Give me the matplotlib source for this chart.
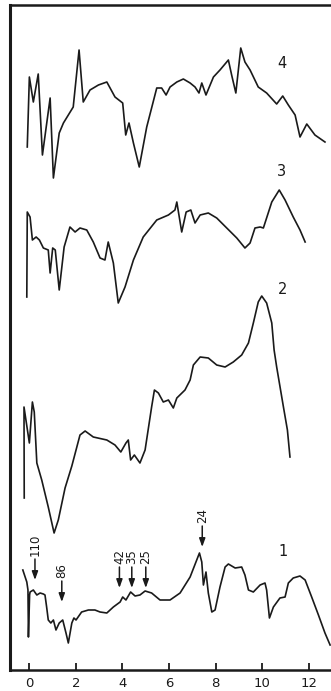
import matplotlib
matplotlib.use("Agg")
import matplotlib.pyplot as plt

# ---- data (x in axis units, y in arbitrary offset intensity units) ----
x4 = [-0.08, 0.01, 0.18, 0.39, 0.57, 0.90, 1.04, 1.29, 1.47, 1.89, 2.14, 2.32, 2.61, 2.97,
      3.33, 3.68, 4.01, 4.14, 4.28, 4.47, 4.72, 5.04, 5.47, 5.68, 5.87, 6.04, 6.33, 6.61,
      6.90, 7.11, 7.28, 7.40, 7.58, 7.90, 8.18, 8.54, 8.68, 8.86, 9.07, 9.25, 9.47, 9.82,
      10.18, 10.61, 10.87, 11.11, 11.40, 11.61, 11.90, 12.25, 12.68]
y4 = [523, 593, 568, 596, 515, 572, 492, 537, 547, 563, 620, 568, 580, 585,
      588, 573, 567, 535, 547, 527, 503, 543, 582, 582, 575, 583, 588, 591,
      587, 583, 577, 587, 575, 593, 600, 610, 595, 577, 622, 608, 600, 583,
      577, 566, 574, 565, 555, 533, 546, 535, 528]

x3 = [-0.10, -0.08, 0.04, 0.14, 0.30, 0.44, 0.61, 0.82, 0.90, 1.01, 1.12, 1.29, 1.50,
      1.75, 1.97, 2.18, 2.47, 2.75, 3.04, 3.25, 3.39, 3.61, 3.82, 4.11, 4.47, 4.89,
      5.47, 5.97, 6.25, 6.33, 6.54, 6.73, 6.93, 7.11, 7.33, 7.68, 8.04, 8.47, 8.90,
      9.25, 9.47, 9.68, 9.90, 10.04, 10.40, 10.72, 10.97, 11.32, 11.61, 11.83]
y3 = [373, 458, 453, 430, 433, 430, 422, 420, 397, 422, 420, 380, 423,
      443, 438, 442, 440, 428, 412, 410, 428, 407, 367, 383, 410, 433,
      450, 455, 460, 468, 438, 458, 460, 447, 455, 457, 452, 442, 432,
      422, 427, 442, 443, 442, 468, 480, 470, 453, 440, 428]

x2 = [-0.21, -0.22, 0.01, 0.14, 0.22, 0.33, 0.54, 0.82, 1.07, 1.25, 1.54, 1.83, 2.18,
      2.40, 2.75, 3.33, 3.68, 3.93, 4.15, 4.25, 4.35, 4.51, 4.75, 4.97, 5.25, 5.37,
      5.54, 5.75, 5.97, 6.18, 6.33, 6.68, 6.90, 7.04, 7.33, 7.68, 8.04, 8.40, 8.75,
      9.11, 9.40, 9.61, 9.82, 9.97, 10.18, 10.40, 10.50, 10.61, 10.90, 11.07, 11.18]
y2 = [172, 263, 227, 268, 258, 207, 190, 163, 137, 150, 182, 204, 235,
      239, 233, 230, 225, 218, 227, 230, 210, 215, 207, 220, 263, 280,
      277, 268, 270, 262, 272, 280, 290, 305, 313, 312, 305, 303, 308,
      315, 327, 347, 368, 374, 367, 347, 320, 303, 263, 240, 213]

x1 = [-0.27, -0.10, -0.05, -0.03, 0.02, 0.04, 0.18, 0.33, 0.47, 0.61, 0.68, 0.75, 0.82,
      0.93, 1.04, 1.15, 1.29, 1.44, 1.58, 1.68, 1.83, 1.92, 2.01, 2.25, 2.54, 2.82,
      3.04, 3.33, 3.61, 3.90, 4.01, 4.15, 4.35, 4.54, 4.75, 4.97, 5.25, 5.61, 6.04,
      6.47, 6.90, 7.30, 7.40, 7.47, 7.58, 7.68, 7.83, 7.97, 8.18, 8.40, 8.54, 8.83,
      9.11, 9.25, 9.40, 9.61, 9.90, 10.11, 10.18, 10.30, 10.47, 10.75, 10.97, 11.11,
      11.32, 11.61, 11.83, 12.11, 12.40, 12.68, 12.90]
y1 = [100, 88, 80, 33, 75, 78, 80, 75, 77, 76, 75, 63, 50,
      47, 50, 40, 47, 50, 37, 27, 47, 52, 50, 58, 60, 60,
      58, 57, 63, 68, 73, 70, 78, 74, 75, 79, 77, 70, 70,
      77, 93, 117, 108, 85, 98, 77, 58, 60, 83, 103, 106, 102,
      103, 95, 80, 78, 85, 87, 80, 52, 63, 72, 73, 87,
      92, 94, 90, 73, 55, 37, 25]

curve_labels = ["1", "2", "3", "4"]
label_x = [10.90, 10.87, 10.83, 10.83]
label_y = [119, 380, 498, 607]

peak_labels = ["110", "86", "42", "35", "25", "24"]
peak_x = [0.25, 1.40, 3.87, 4.40, 5.00, 7.42]
peak_tip = [90, 68, 82, 82, 82, 123]

xticks = [0, 2, 4, 6, 8, 10, 12]

# ---- figure ----
fig = plt.figure(figsize=(3.31, 6.91), dpi=100)
ax = fig.add_axes([10 / 331, 21 / 691, 325 / 331, 665 / 691])
ax.set_xlim(-0.82, 13.11)
ax.set_ylim(0, 665)

for xs, ys in [(x1, y1), (x2, y2), (x3, y3), (x4, y4)]:
    ax.plot(xs, ys, color="#1a1a1a", lw=1.2, solid_joinstyle="round")

for t, lx, ly in zip(curve_labels, label_x, label_y):
    ax.text(lx, ly, t, fontsize=10.5, ha="center", va="center", color="#1a1a1a")

arrow_len = 21
for t, px, tip in zip(peak_labels, peak_x, peak_tip):
    ax.annotate("", xy=(px, tip), xytext=(px, tip + arrow_len),
                arrowprops=dict(arrowstyle="-|>,head_length=0.5,head_width=0.18",
                                color="#1a1a1a", lw=1.1, shrinkA=0, shrinkB=0))
    ax.text(px, tip + arrow_len + 3, t, rotation=90, fontsize=8.5,
            ha="center", va="bottom", color="#1a1a1a")

ax.set_xticks(xticks)
ax.set_xticklabels([str(v) for v in xticks], fontsize=9.5, color="#1a1a1a")
ax.set_yticks([])
ax.tick_params(axis="x", direction="in", length=5, width=1.3, pad=5, colors="#1a1a1a")
for s in ["left", "bottom", "top"]:
    ax.spines[s].set_linewidth(1.8)
    ax.spines[s].set_color("#1a1a1a")
ax.spines["left"].set_linewidth(2.2)
ax.spines["right"].set_visible(False)

fig.savefig("out.png", dpi=100)
